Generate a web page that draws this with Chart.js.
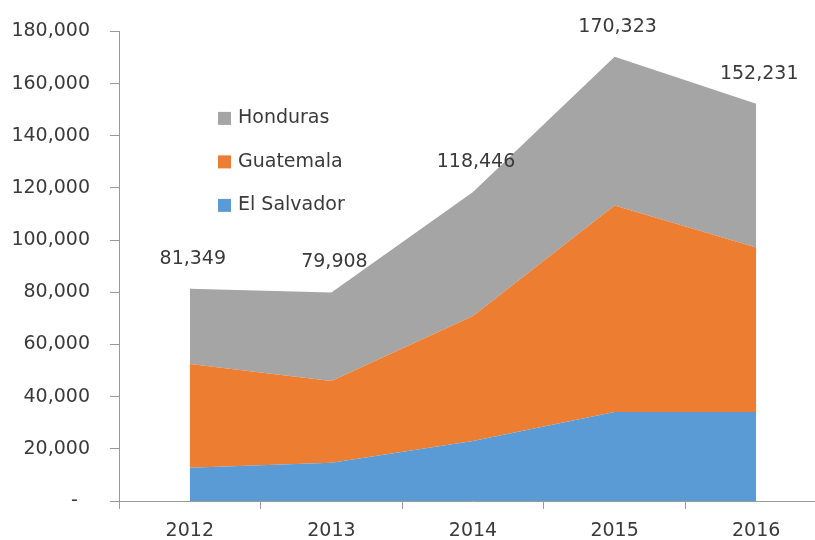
<!DOCTYPE html>
<html>
<head>
<meta charset="utf-8">
<script src="https://cdn.jsdelivr.net/npm/chart.js@4/dist/chart.umd.min.js"></script>
<style>
  html, body { margin: 0; padding: 0; background: #fff; overflow: hidden; }
  #wrap { width: 815px; height: 540px; overflow: hidden; position: relative; }
  canvas { position: absolute; left: 0; top: 0; }
</style>
</head>
<body>
<div id="wrap"><canvas id="chart" width="840" height="540"></canvas></div>
<script>
// data
const years = ['2012', '2013', '2014', '2015', '2016'];
const elSalvador = [12750, 14700, 23000, 34150, 34150];
const guatemala = [39750, 31250, 47900, 79150, 63000];
const honduras = [28849, 33958, 47546, 57023, 55081];
const totals = [81349, 79908, 118446, 170323, 152231];
const yTicks = [0, 20000, 40000, 60000, 80000, 100000, 120000, 140000, 160000, 180000];

const textColor = '#3a3a3a';
const axisColor = '#9a9a9a';
const fontFamily = '"DejaVu Sans", sans-serif';

function fmt(n) {
    return n.toString().replace(/\B(?=(\d{3})+(?!\d))/g, ',');
}

// totals above the top area
const totalLabels = {
    id: 'totalLabels',
    afterDatasetsDraw(chart) {
        const c = chart.ctx;
        const meta = chart.getDatasetMeta(2);
        c.save();
        c.font = '19px ' + fontFamily;
        c.fillStyle = textColor;
        c.textAlign = 'center';
        c.textBaseline = 'middle';
        meta.data.forEach((pt, i) => {
            c.fillText(fmt(totals[i]), pt.x + 3, pt.y - 30);
        });
        c.restore();
    }
};

// legend drawn inside the plot, top series first
const innerLegend = {
    id: 'innerLegend',
    afterDraw(chart) {
        const c = chart.ctx;
        const area = chart.chartArea;
        const x = area.left + 99;
        let y = area.top + 87;
        c.save();
        c.font = '19px ' + fontFamily;
        c.textBaseline = 'middle';
        c.textAlign = 'left';
        for (let i = chart.data.datasets.length - 1; i >= 0; i--) {
            const ds = chart.data.datasets[i];
            c.fillStyle = ds.backgroundColor;
            c.fillRect(x, y - 6.5, 13, 13);
            c.fillStyle = textColor;
            c.fillText(ds.label, x + 20, y);
            y += 43.5;
        }
        c.restore();
    }
};

const ctx = document.getElementById('chart').getContext('2d');

new Chart(ctx, {
    type: 'line',
    data: {
        labels: years,
        datasets: [
            { label: 'El Salvador', data: elSalvador, backgroundColor: '#5B9BD5', fill: 'origin' },
            { label: 'Guatemala', data: guatemala, backgroundColor: '#ED7D31', fill: '-1' },
            { label: 'Honduras', data: honduras, backgroundColor: '#A5A5A5', fill: '-1' }
        ].map(ds => Object.assign(ds, { borderWidth: 0, pointRadius: 0, tension: 0 }))
    },
    options: {
        responsive: false,
        animation: false,
        layout: { padding: { left: 0, top: 30, right: 13, bottom: 0 } },
        plugins: {
            legend: { display: false },
            tooltip: { enabled: false }
        },
        scales: {
            x: {
                offset: true,
                grid: { offset: true, drawOnChartArea: false, tickLength: 8, color: axisColor },
                border: { color: axisColor },
                ticks: { color: textColor, font: { family: fontFamily, size: 19 }, padding: 11, maxRotation: 0 },
                afterFit(scale) { scale.height = 39; }
            },
            y: {
                stacked: true,
                min: 0,
                max: 180000,
                afterBuildTicks(scale) { scale.ticks = yTicks.map(v => ({ value: v })); },
                grid: { drawOnChartArea: false, tickLength: 9, color: axisColor },
                border: { color: axisColor },
                ticks: {
                    color: textColor,
                    font: { family: fontFamily, size: 19 },
                    padding: 20,
                    callback: v => v === 0 ? '-  ' : fmt(v)
                },
                afterFit(scale) { scale.width = 119; }
            }
        }
    },
    plugins: [totalLabels, innerLegend]
});
</script>
</body>
</html>
